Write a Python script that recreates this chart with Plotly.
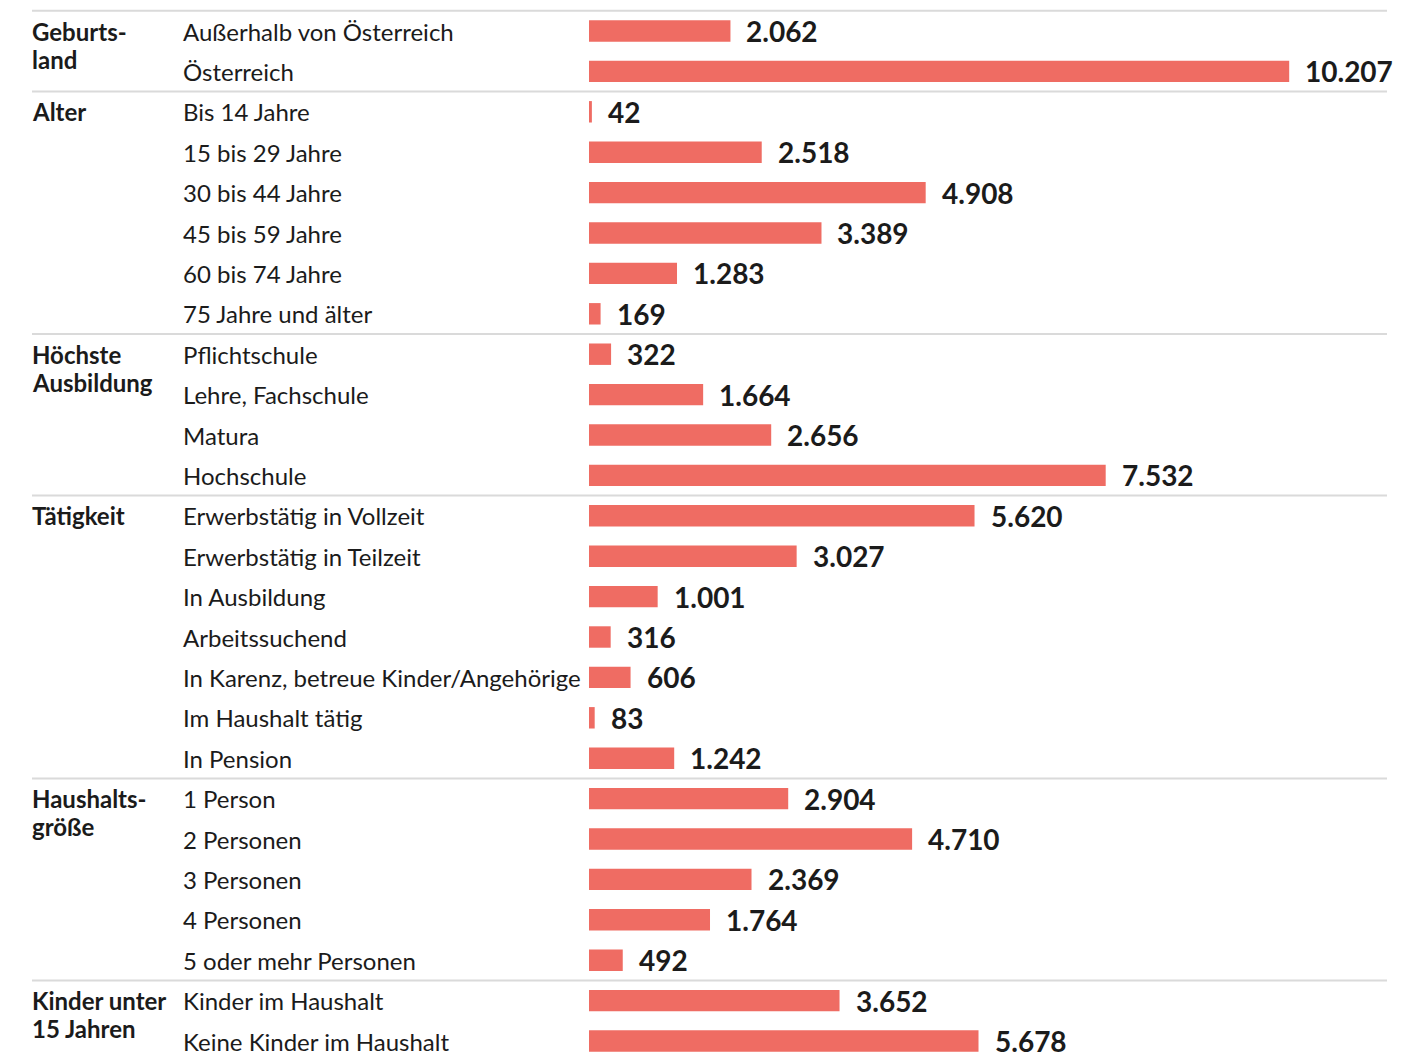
import plotly.graph_objects as go

groups = ["Geburts-<br>land", "Alter", "Höchste<br>Ausbildung", "Tätigkeit",
          "Haushalts-<br>größe", "Kinder unter<br>15 Jahren"]
group_sizes = [2, 6, 4, 7, 5, 2]

categories = [
    "Außerhalb von Österreich", "Österreich",
    "Bis 14 Jahre", "15 bis 29 Jahre", "30 bis 44 Jahre", "45 bis 59 Jahre",
    "60 bis 74 Jahre", "75 Jahre und älter",
    "Pflichtschule", "Lehre, Fachschule", "Matura", "Hochschule",
    "Erwerbstätig in Vollzeit", "Erwerbstätig in Teilzeit", "In Ausbildung",
    "Arbeitssuchend", "In Karenz, betreue Kinder/Angehörige", "Im Haushalt tätig",
    "In Pension",
    "1 Person", "2 Personen", "3 Personen", "4 Personen", "5 oder mehr Personen",
    "Kinder im Haushalt", "Keine Kinder im Haushalt",
]
values = [
    2062, 10207,
    42, 2518, 4908, 3389, 1283, 169,
    322, 1664, 2656, 7532,
    5620, 3027, 1001, 316, 606, 83, 1242,
    2904, 4710, 2369, 1764, 492,
    3652, 5678,
]

OFF = 8  # page body margin
W, H = 1411 - OFF, 1059 - OFF
ML = 589 - OFF
PW = W - ML
ROW0, STEP = 31 - OFF, 40.4
BAR = "#EF6C63"
TXT = "#1b1b1b"
FONT = "Lato"
SCALE = 0.0686  # px per unit

rows = list(range(len(categories)))

fig = go.Figure(go.Bar(
    x=values, y=rows, orientation="h", marker=dict(color=BAR, line_width=0),
    width=0.53, hoverinfo="skip",
))

def px(xpix):
    return (xpix - OFF - ML) / PW

ann = []
for i, (c, v) in enumerate(zip(categories, values)):
    ann.append(dict(x=px(181), xref="paper", y=i, yref="y", text=c, showarrow=False,
                    xanchor="left", yanchor="middle",
                    font=dict(family=FONT, size=24, color=TXT)))
    ann.append(dict(x=v, xref="x", y=i, yref="y", text=f"{v:,}".replace(",", "."),
                    showarrow=False, xanchor="left", yanchor="middle", xshift=14,
                    font=dict(family=FONT, size=28, color=TXT, weight="bold")))

shapes = []
start = 0
line = dict(color="#dadada", width=2)
shapes.append(dict(type="line", xref="paper", yref="y", x0=px(32), x1=px(1387),
                   y0=-0.5, y1=-0.5, line=line))
for g, n in zip(groups, group_sizes):
    for k, part in enumerate(g.split("<br>")):
        ann.append(dict(x=px(30), xref="paper", y=start, yref="y", text=part,
                        showarrow=False, xanchor="left", yanchor="middle",
                        yshift=-28 * k, align="left",
                        font=dict(family=FONT, size=24, color=TXT, weight="bold")))
    start += n
    if start < len(categories):
        shapes.append(dict(type="line", xref="paper", yref="y", x0=px(32), x1=px(1387),
                           y0=start - 0.5, y1=start - 0.5, line=line))

fig.update_layout(
    width=W, height=H,
    margin=dict(l=ML, r=0, t=0, b=0),
    plot_bgcolor="white", paper_bgcolor="white",
    xaxis=dict(range=[0, PW / SCALE], visible=False, fixedrange=True),
    yaxis=dict(range=[(H - ROW0) / STEP, -ROW0 / STEP], visible=False, fixedrange=True),
    annotations=ann, shapes=shapes, showlegend=False,
    font=dict(family=FONT),
)

fig.write_html("out.html")
